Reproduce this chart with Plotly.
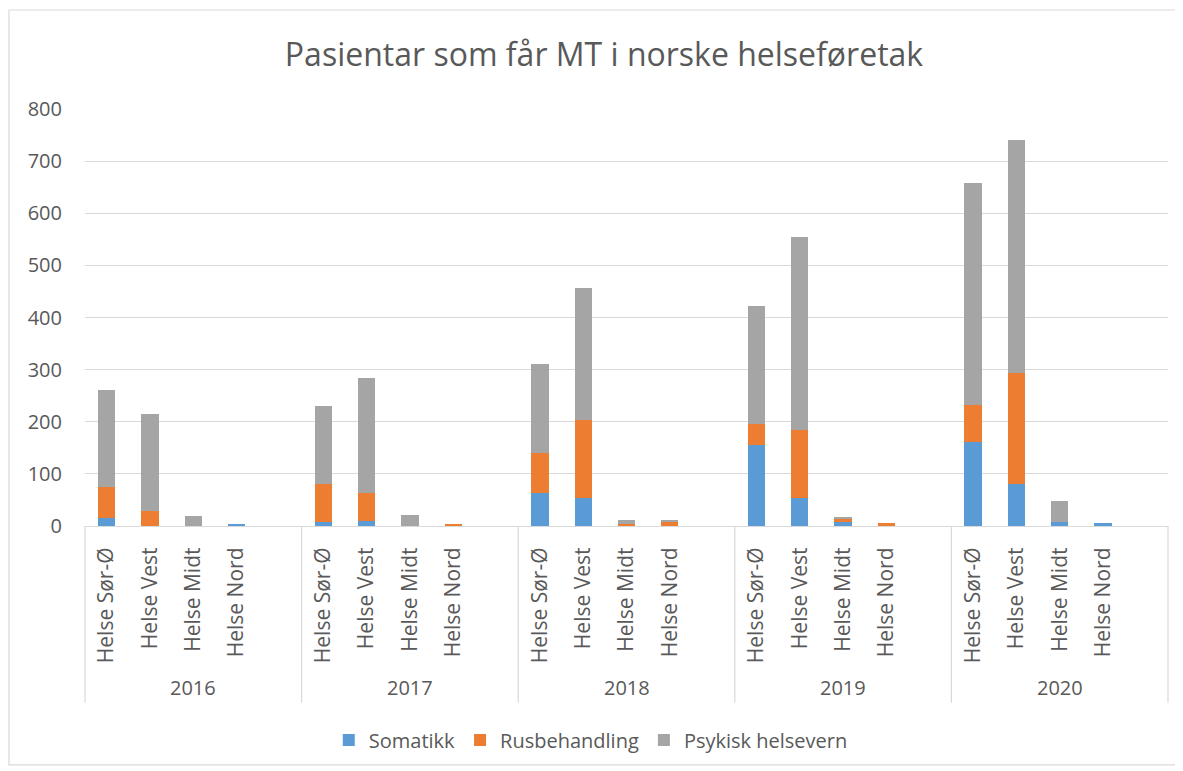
import plotly.graph_objects as go

years = ["2016", "2017", "2018", "2019", "2020"]
regions = ["Helse Sør-Ø", "Helse Vest", "Helse Midt", "Helse Nord"]

somatikk = [16, 0, 0, 3,
            7, 9, 0, 0,
            63, 53, 0, 0,
            156, 53, 7, 0,
            162, 81, 8, 5]
rusbehandling = [58, 29, 0, 0,
                 74, 54, 0, 3,
                 77, 150, 4, 8,
                 39, 131, 6, 5,
                 71, 212, 0, 0]
psykisk = [187, 186, 20, 0,
           150, 220, 22, 0,
           170, 253, 8, 3,
           227, 371, 5, 0,
           425, 447, 40, 0]

series = [("Somatikk", somatikk, "#5B9BD5"),
          ("Rusbehandling", rusbehandling, "#ED7D31"),
          ("Psykisk helsevern", psykisk, "#A5A5A5")]

SLOTS = 5  # four regions + one empty slot per year
xpos = [yi * SLOTS + ri for yi in range(len(years)) for ri in range(len(regions))]
ticktext = [r for _ in years for r in regions]

FONT = "Open Sans"
GREY = "#595959"
LINE = "#D9D9D9"

W, H = 1175, 763   # page body has an 8px margin

fig = go.Figure()
for name, vals, col in series:
    fig.add_trace(go.Bar(x=xpos, y=vals, name=name, width=0.4,
                         marker=dict(color=col, line=dict(width=0))))

n = len(years) * SLOTS
shapes = []
for k in range(len(years) + 1):
    shapes.append(dict(type="line", xref="paper", yref="paper",
                       x0=k / len(years), x1=k / len(years), y0=0, y1=-0.424,
                       line=dict(color=LINE, width=1.2)))
# outer chart border
shapes.append(dict(type="rect", xref="paper", yref="paper",
                   x0=-0.0702, x1=1.0083, y0=1.2374, y1=-0.573,
                   line=dict(color=LINE, width=1.2)))

annotations = []
for yi, yr in enumerate(years):
    annotations.append(dict(x=yi * SLOTS + 2, xref="x", y=-0.388, yref="paper",
                            text=yr, showarrow=False, xanchor="center", yanchor="middle",
                            font=dict(family=FONT, size=20, color=GREY)))

fig.update_layout(
    barmode="stack",
    width=W, height=H,
    margin=dict(l=77, r=15, t=101, b=245),
    paper_bgcolor="white", plot_bgcolor="white",
    title=dict(text="Pasientar som får MT i norske helseføretak",
               x=596 / W, xanchor="center", xref="container",
               y=1 - 47 / H, yanchor="middle", yref="container",
               font=dict(family=FONT, size=32, color=GREY)),
    font=dict(family=FONT, color=GREY),
    xaxis=dict(range=[-0.5, n - 0.5], tickmode="array", tickvals=xpos, ticktext=ticktext,
               tickangle=-90, showgrid=False, zeroline=False,
               showline=True, linecolor=LINE, linewidth=1.2, ticks="",
               ticklabelstandoff=12,
               tickfont=dict(family=FONT, size=21, color=GREY)),
    yaxis=dict(range=[0, 800], dtick=100, showgrid=True, gridcolor=LINE, gridwidth=1.2,
               zeroline=False, showline=False, ticks="", ticklabelstandoff=22,
               tickfont=dict(family=FONT, size=20, color=GREY)),
    legend=dict(orientation="h", x=0.467, xanchor="center", y=-0.513, yanchor="middle",
                font=dict(family=FONT, size=20, color=GREY), traceorder="normal"),
    shapes=shapes,
    annotations=annotations,
    bargap=0,
)

fig.write_html("out.html")
